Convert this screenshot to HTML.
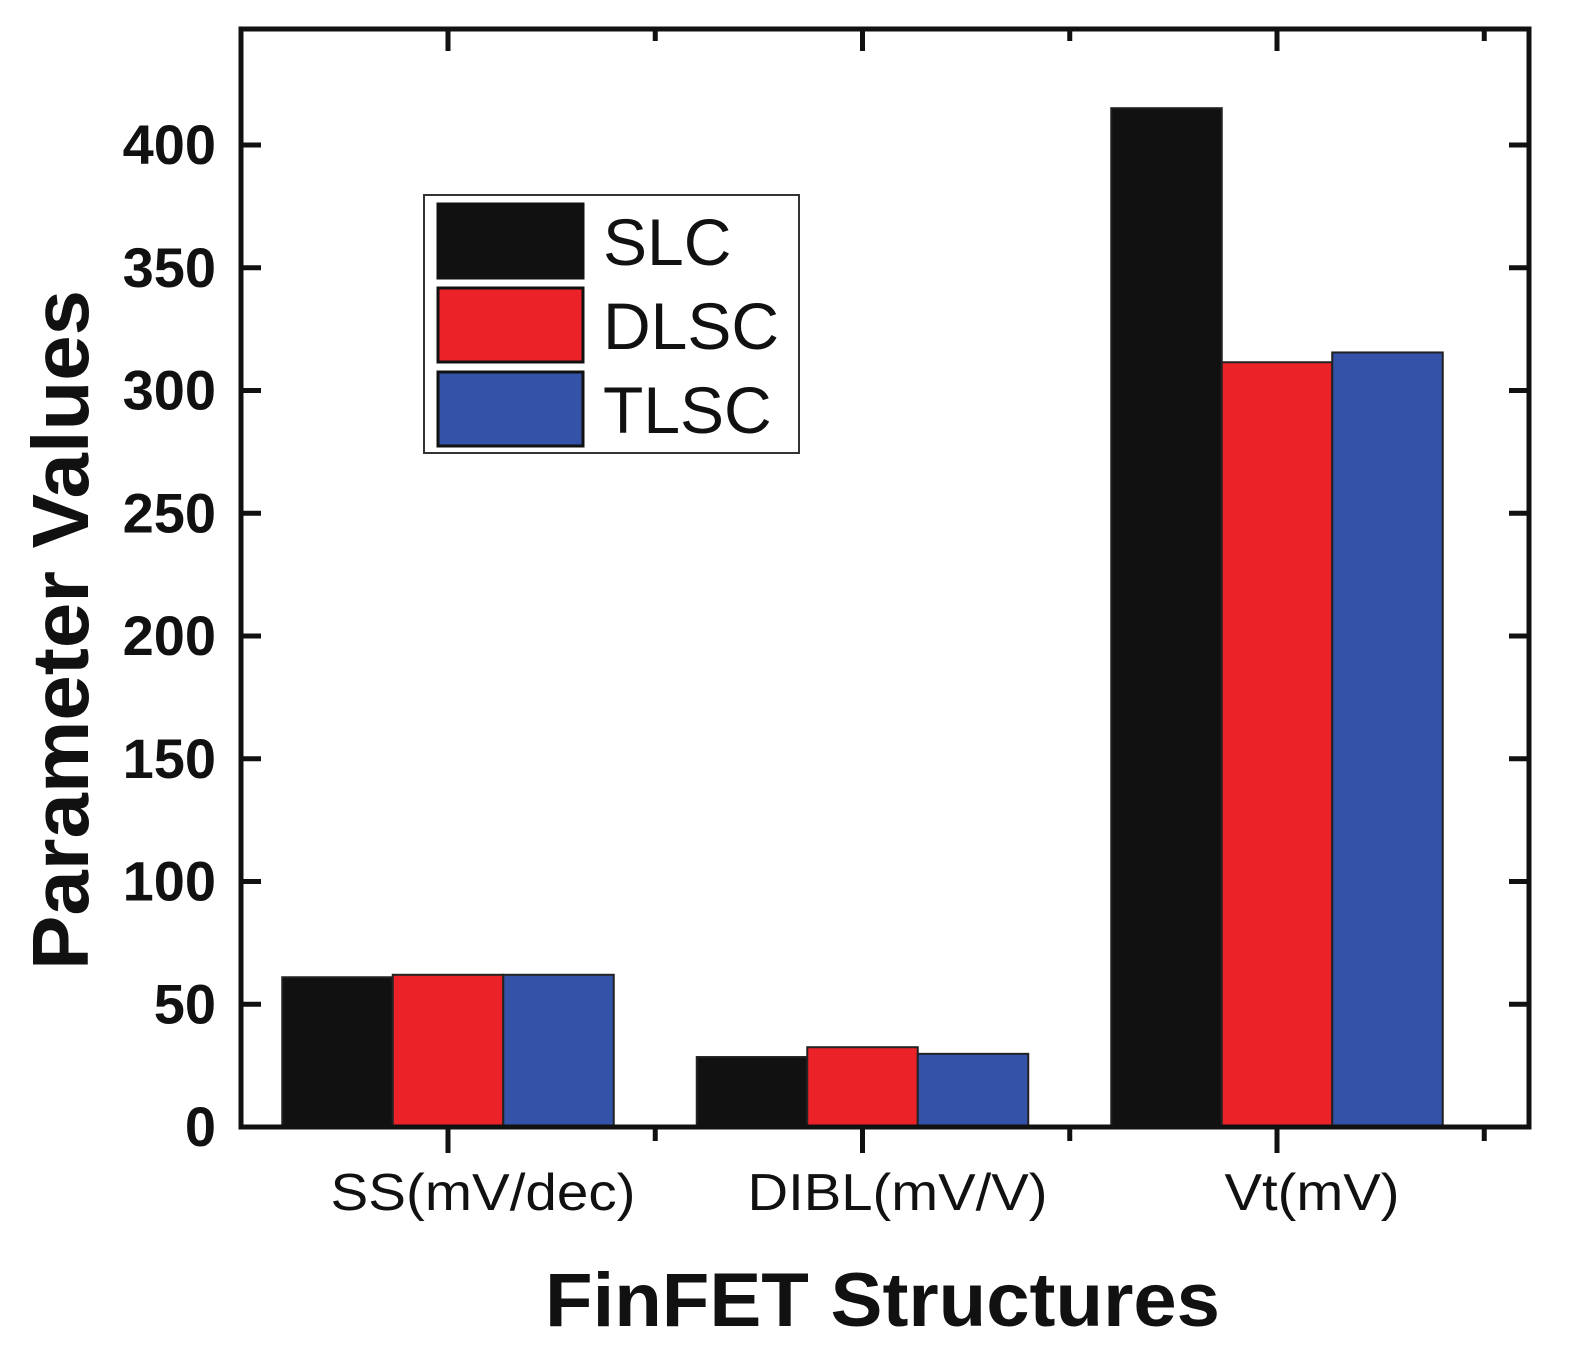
<!DOCTYPE html>
<html><head><meta charset="utf-8"><style>
body{margin:0;background:#fff}
svg{display:block}
text{font-family:"Liberation Sans",Arial,sans-serif;fill:#111}
</style></head><body>
<svg id="chart" width="1575" height="1350" viewBox="0 0 1575 1350" xmlns="http://www.w3.org/2000/svg">
<g id="bars"></g>
<g id="axes"></g>
<g id="legend"></g>
</svg>
<script>
const categories = ["SS(mV/dec)", "DIBL(mV/V)", "Vt(mV)"];
const seriesNames = ["SLC", "DLSC", "TLSC"];
const slcValues = [61, 28.5, 415];
const dlscValues = [62, 32.5, 311.5];
const tlscValues = [62, 29.8, 315.5];
const yTicks = [0, 50, 100, 150, 200, 250, 300, 350, 400];
const colors = ["#111111", "#ec2229", "#3352a8"];

const NS = "http://www.w3.org/2000/svg";
const L = 241, R = 1529, T = 29, B = 1127;
const yScale = v => B - v * (B - 145) / 400;
const catCenter = i => 448 + 414.5 * i;
const barW = 110.5;
const labelLen = [305, 300, 175];
function mk(tag, attrs, parent) {
  const e = document.createElementNS(NS, tag);
  for (const k in attrs) e.setAttribute(k, attrs[k]);
  parent.appendChild(e);
  return e;
}
const bars = document.getElementById("bars");
const axes = document.getElementById("axes");
const legend = document.getElementById("legend");
const series = [slcValues, dlscValues, tlscValues];

series.forEach((vals, s) => {
  vals.forEach((v, i) => {
    const x = catCenter(i) + (s - 1.5) * barW;
    const r = mk("rect", {x: x, y: yScale(v), width: barW, height: B - yScale(v), fill: colors[s], stroke: "#222", "stroke-width": 2}, bars);
    
    
  });
});

const fr = mk("rect", {x: L, y: T, width: R - L, height: B - T, fill: "none", stroke: "#111", "stroke-width": 5}, axes);



yTicks.forEach(t => {
  const y = yScale(t);
  if (t > 0) {
    mk("line", {x1: L, x2: L + 20, y1: y, y2: y, stroke: "#111", "stroke-width": 5}, axes);
    mk("line", {x1: R, x2: R - 20, y1: y, y2: y, stroke: "#111", "stroke-width": 5}, axes);
  }
  const tx = mk("text", {x: 216, y: y + 19, "text-anchor": "end", "font-size": 56, "font-weight": "bold"}, axes);
  tx.textContent = t;
  
  
});

for (let k = -0.5; k <= categories.length; k += 0.5) {
  const x = catCenter(0) + 414.5 * k;
  if (x <= L + 5 || x >= R - 5) continue;
  const major = Number.isInteger(k);
  mk("line", {x1: x, x2: x, y1: B, y2: B + (major ? 26 : 14), stroke: "#111", "stroke-width": 5}, axes);
  mk("line", {x1: x, x2: x, y1: T, y2: T + (major ? 22 : 12), stroke: "#111", "stroke-width": 5}, axes);
}

categories.forEach((c, i) => {
  const cx = catCenter(i) + 35;
  const tx = mk("text", {x: cx - labelLen[i] / 2, y: 1210, "font-size": 52, textLength: labelLen[i], lengthAdjust: "spacingAndGlyphs"}, axes);
  tx.textContent = c;
  
  
});

const xt = mk("text", {x: 545, y: 1326, "font-size": 76, "font-weight": "bold", textLength: 675, lengthAdjust: "spacingAndGlyphs"}, axes);
xt.textContent = "FinFET Structures";


const yt = mk("text", {x: -340, y: 0, "font-size": 80, "font-weight": "bold", textLength: 680, lengthAdjust: "spacingAndGlyphs", transform: "translate(88,630) rotate(-90)"}, axes);
yt.textContent = "Parameter Values";



const lb = mk("rect", {x: 424, y: 195, width: 375, height: 258, fill: "#fff", stroke: "#333", "stroke-width": 2}, legend);


seriesNames.forEach((n, s) => {
  const y = 204 + s * 84;
  const sw = mk("rect", {x: 438, y: y, width: 145, height: 74, fill: colors[s], stroke: "#111", "stroke-width": 3}, legend);
  
  
  const tx = mk("text", {x: 603, y: y + 61, "font-size": 66}, legend);
  tx.textContent = n;
  
  
});
</script>
</body></html>
